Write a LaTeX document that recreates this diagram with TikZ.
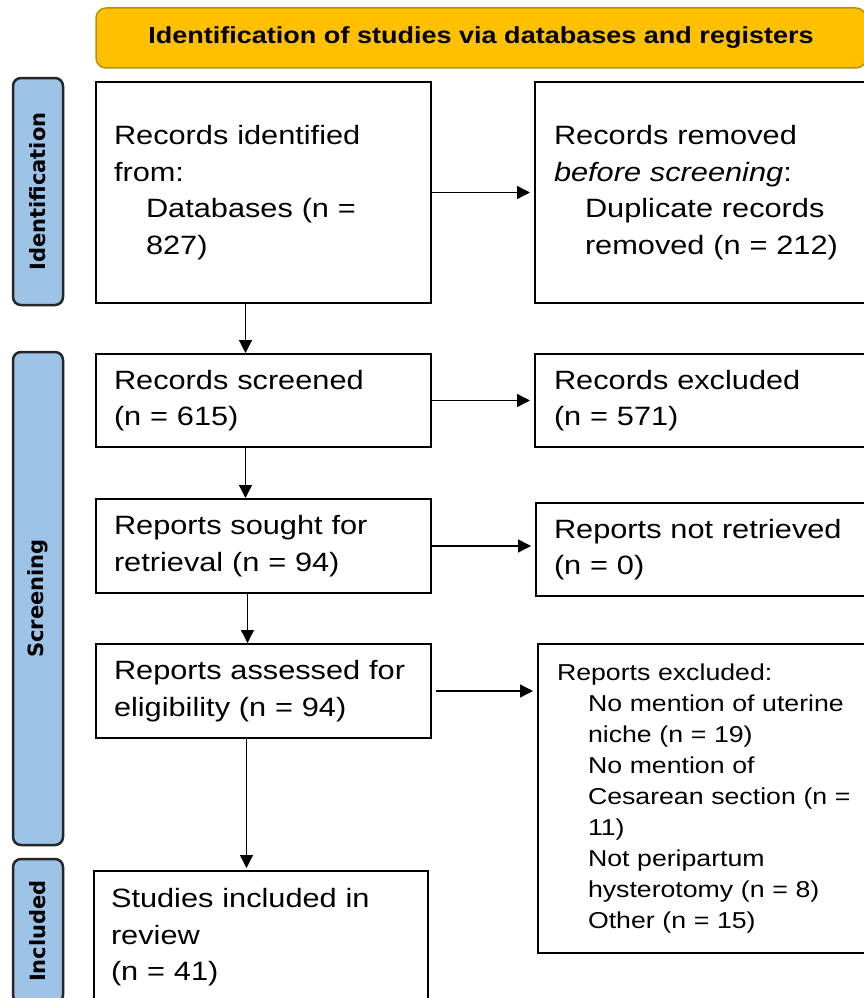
\documentclass[tikz,border=0pt]{standalone}
\usepackage{fontspec}
\setmainfont{Liberation Sans}[FakeStretch=1.16]
\newfontfamily\stagefont{DejaVu Sans}
\usepackage{tikz}
\usetikzlibrary{arrows.meta}
\definecolor{headgold}{HTML}{FFC000}
\definecolor{headedge}{HTML}{B8900A}
\definecolor{stageblue}{HTML}{9DC3E6}
\definecolor{stageedge}{HTML}{262626}
\tikzset{
  flowbox/.style={draw=black, line width=2pt, anchor=north west, align=left,
    inner ysep=0pt, font=\fontsize{26.5}{36.5}\selectfont},
  notebox/.style={flowbox, font=\fontsize{23}{31}\selectfont},
  stagebar/.style={draw=stageedge, fill=stageblue, line width=2.5pt, rounded corners=8pt,
    rotate=90, minimum height=50pt, inner sep=0pt,
    font=\stagefont\bfseries\fontsize{21}{25}\selectfont},
  headbar/.style={draw=headedge, fill=headgold, line width=1.5pt, rounded corners=10pt,
    minimum width=770pt, minimum height=60pt, font=\bfseries\fontsize{23.3}{28}\selectfont},
  arr/.style={-{Triangle[length=13pt,width=13pt]}, line width=1.3pt}
}
\newcommand{\stagelabel}[4]{\node[stagebar, minimum width=#3] (#1) at (38,#2) {#4};}
\newcommand{\ind}{\hspace*{31pt}}

\begin{document}
\begin{tikzpicture}[x=1pt,y=-1pt]
  \path[use as bounding box] (0,0) rectangle (864,998);
  \clip (0,0) rectangle (864,998);

  % header
  \node[headbar] (head) at (481,38) {Identification of studies via databases and registers};

  % stages
  \stagelabel{identlab}{191.5}{227pt}{Identification}
  \stagelabel{screenlab}{598.5}{493pt}{Screening}
  \stagelabel{incllab}{931}{144pt}{Included}

  % left column
  \node[flowbox, minimum width=335pt, minimum height=221pt, inner xsep=18pt, text width=299pt]
    (ident) at (95,81) {Records identified\\from:\\\hspace*{32pt}Databases (n =\\\hspace*{32pt}827)};
  \node[flowbox, minimum width=335pt, minimum height=93pt, inner xsep=18pt, text width=299pt]
    (screened) at (95,353) {Records screened\\(n = 615)};
  \node[flowbox, minimum width=335pt, minimum height=94pt, inner xsep=18pt, text width=299pt]
    (sought) at (95,498) {Reports sought for\\retrieval (n = 94)};
  \node[flowbox, minimum width=335pt, minimum height=94pt, inner xsep=18pt, text width=299pt]
    (assessed) at (95,643) {Reports assessed for\\eligibility (n = 94)};
  \node[flowbox, minimum width=334pt, minimum height=133pt, inner xsep=17pt, text width=300pt]
    (included) at (93,870) {Studies included in\\review\\(n = 41)};

  % right column
  \node[flowbox, minimum width=346pt, minimum height=221pt, inner xsep=19pt, text width=308pt]
    (removed) at (534,81) {Records removed\\\textit{before screening}:\\\ind Duplicate records\\\ind removed (n = 212)};
  \node[flowbox, minimum width=346pt, minimum height=93pt, inner xsep=19pt, text width=308pt]
    (excluded) at (534,353) {Records excluded\\(n = 571)};
  \node[flowbox, minimum width=345pt, minimum height=93pt, inner xsep=18pt, text width=309pt]
    (notret) at (535,502) {Reports not retrieved\\(n = 0)};
  \node[notebox, minimum width=343pt, minimum height=309pt, inner xsep=19pt, text width=305pt]
    (reasons) at (537,643) {Reports excluded:\\\ind No mention of uterine\\\ind niche (n = 19)\\\ind No mention of\\\ind Cesarean section (n =\\\ind 11)\\\ind Not peripartum\\\ind hysterotomy (n = 8)\\\ind Other (n = 15)};

  % down arrows
  \draw[arr] ([xshift=-18pt]ident.south) -- ([xshift=-18pt]screened.north);
  \draw[arr] ([xshift=-18pt]screened.south) -- ([xshift=-18pt]sought.north);
  \draw[arr] ([xshift=-16pt]sought.south) -- ([xshift=-16pt]assessed.north);
  \draw[arr, shorten >=2pt] ([xshift=-17pt]assessed.south) -- ([xshift=-17pt]assessed.south |- included.north);

  % side arrows
  \draw[arr, shorten >=4pt] (ident.east) -- (removed.west);
  \draw[arr, shorten >=4pt] (screened.east) -- (excluded.west);
  \draw[arr, shorten >=4pt] (sought.east) -- (sought.east -| notret.west);
  \draw[arr, shorten <=4pt, shorten >=4pt] (assessed.east) -- (assessed.east -| reasons.west);
\end{tikzpicture}
\end{document}
